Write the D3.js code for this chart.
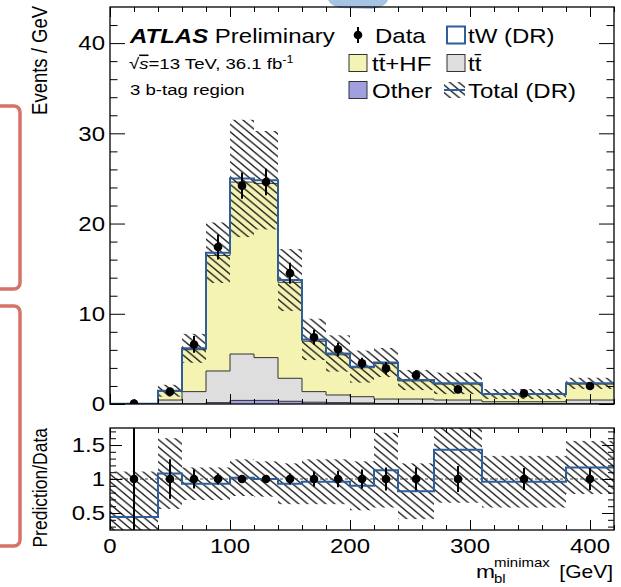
<!DOCTYPE html>
<html>
<head>
<meta charset="utf-8">
<script src="https://cdn.jsdelivr.net/npm/d3@7"></script>
<style>
body { margin: 0; background: #fff; }
svg { display: block; font-family: "Liberation Sans", Arial, Helvetica, sans-serif; }
</style>
</head>
<body>
<div id="chart"></div>
<script>
// bin edges in GeV
let edges = [0, 40, 60, 80, 100, 120, 140, 160, 180, 200, 220, 240, 270, 310, 380, 420];

// stack components, events / GeV
let other = [0, 0, 0, 0.15, 0.4, 0.4, 0.3, 0.2, 0.15, 0.12, 0.05, 0.03, 0.02, 0.02, 0.02];
let ttbar = [0, 0.44, 1.37, 3.51, 5.14, 4.74, 2.55, 1.17, 0.85, 0.69, 0.5, 0.52, 0.42, 0.23, 0.42];
let ttHF = [0.02, 0.98, 4.65, 12.81, 19.06, 19.31, 10.64, 5.59, 4.45, 3.21, 3.93, 2.01, 1.77, 0.8, 1.77];
let tW = [0, 0.05, 0.15, 0.3, 0.4, 0.35, 0.25, 0.2, 0.15, 0.12, 0.12, 0.1, 0.08, 0.05, 0.08];
let predRelErr = [1.0, 0.45, 0.26, 0.2, 0.26, 0.22, 0.25, 0.32, 0.36, 0.43, 0.35, 0.42, 0.52, 0.5, 0.27];

// data
let dataVals = [0.05, 1.37, 6.6, 17.4, 24.2, 24.6, 14.5, 7.4, 6.06, 4.5, 3.95, 3.2, 1.62, 1.18, 2.0];
let dataRelErr = [1.5, 0.29, 0.14, 0.08, 0.06, 0.06, 0.08, 0.11, 0.12, 0.14, 0.17, 0.17, 0.19, 0.16, 0.16];

// prediction / data panel
let ratioVals = [0.44, 1.08, 0.93, 0.93, 1.02, 1.0, 0.93, 0.96, 0.96, 0.9, 1.13, 0.82, 1.43, 0.96, 1.17];
let ratioBand = [0.67, 0.52, 0.24, 0.24, 0.27, 0.26, 0.3, 0.33, 0.33, 0.36, 0.55, 0.41, 0.78, 0.38, 0.39];

let xTicks = [0, 100, 200, 300, 400];
let yTicksMain = [0, 10, 20, 30, 40];
let yTicksRatio = [0.5, 1, 1.5];

var w = 621,
	h = 587,
	SX = 1.2; // the picture is stretched sideways

var left = 110,
	right = 614,
	mainTop = 7,
	mainBot = 404,
	ratTop = 428,
	ratBot = 530;

let blue = "#2f5f9a",
	yellow = "#f4f3b2",
	grey = "#dedede",
	purple = "#a09fe0";

let n = dataVals.length;
let mids = d3.range(n).map((i) => (edges[i] + edges[i + 1]) / 2);

let x = d3.scaleLinear().domain([0, 420]).range([left, right]);
let y = d3.scaleLinear().domain([0, 44]).range([mainBot, mainTop]);
let yr = d3.scaleLinear().domain([0.25, 1.75]).range([ratBot, ratTop]);

let svg = d3.select("#chart").append("svg").attr("width", w).attr("height", h);

let defs = svg.append("defs");
let pat = defs
	.append("pattern")
	.attr("id", "hatch")
	.attr("patternUnits", "userSpaceOnUse")
	.attr("width", 7.5)
	.attr("height", 7.5)
	.attr("patternTransform", "scale(1.2,1)");
pat.append("path")
	.attr("d", "M-1,-1L8.5,8.5M-1,6.5L1,8.5M6.5,-1L8.5,1")
	.attr("stroke", "#222")
	.attr("stroke-width", 1.25);

defs.append("clipPath").attr("id", "clipMain")
	.append("rect").attr("x", left).attr("y", mainTop).attr("width", right - left).attr("height", mainBot - mainTop);
defs.append("clipPath").attr("id", "clipRatio")
	.append("rect").attr("x", left).attr("y", ratTop).attr("width", right - left).attr("height", ratBot - ratTop);

// slide decorations around the figure
svg.append("rect").attr("x", -20).attr("y", 106).attr("width", 40).attr("height", 183).attr("rx", 6)
	.attr("fill", "none").attr("stroke", "#d6726a").attr("stroke-width", 3.5);
svg.append("rect").attr("x", -20).attr("y", 306).attr("width", 40).attr("height", 240).attr("rx", 6)
	.attr("fill", "none").attr("stroke", "#d6726a").attr("stroke-width", 3.5);
svg.append("path").attr("d", "M328,0L388,0Q386,7 372,9L340,8Q331,6 328,0Z").attr("fill", "#a7c3e4");

function stepPts(vals) {
	return edges.map((e, i) => [e, vals[Math.min(i, n - 1)]]);
}
let stepArea = d3.area().curve(d3.curveStepAfter).x((d) => x(d[0])).y0(y(0)).y1((d) => y(d[1]));
let stepLine = d3.line().curve(d3.curveStepAfter).x((d) => x(d[0])).y((d) => y(d[1]));
let ratioLine = d3.line().curve(d3.curveStepAfter).x((d) => x(d[0])).y((d) => yr(d[1]));

let c1 = other,
	c2 = c1.map((v, i) => v + ttbar[i]),
	c3 = c2.map((v, i) => v + ttHF[i]),
	c4 = c3.map((v, i) => v + tW[i]);

let main = svg.append("g").attr("clip-path", "url(#clipMain)");
main.append("path").attr("d", stepArea(stepPts(c4))).attr("fill", "#fff");
main.append("path").attr("d", stepArea(stepPts(c3))).attr("fill", yellow);
main.append("path").attr("d", stepArea(stepPts(c2))).attr("fill", grey);
main.append("path").attr("d", stepArea(stepPts(c1))).attr("fill", purple);
[c3, c2, c1].forEach((c) => {
	main.append("path").attr("d", stepLine(stepPts(c))).attr("fill", "none").attr("stroke", "#333").attr("stroke-width", 1);
});

// total uncertainty
main.selectAll("rect.band")
	.data(d3.range(n))
	.enter()
	.append("rect")
	.attr("class", "band")
	.attr("x", (i) => x(edges[i]))
	.attr("width", (i) => x(edges[i + 1]) - x(edges[i]))
	.attr("y", (i) => y(c4[i] * (1 + predRelErr[i])))
	.attr("height", (i) => y(c4[i] * (1 - predRelErr[i])) - y(c4[i] * (1 + predRelErr[i])))
	.attr("fill", "url(#hatch)");

main.append("path").attr("d", stepLine(stepPts(c4))).attr("fill", "none").attr("stroke", blue).attr("stroke-width", 2);

// data points
main.selectAll("line.err")
	.data(d3.range(n))
	.enter()
	.append("line")
	.attr("x1", (i) => x(mids[i]))
	.attr("x2", (i) => x(mids[i]))
	.attr("y1", (i) => y(dataVals[i] * (1 + dataRelErr[i])))
	.attr("y2", (i) => y(Math.max(0, dataVals[i] * (1 - dataRelErr[i]))))
	.attr("stroke", "#000")
	.attr("stroke-width", 2);
main.selectAll("circle")
	.data(d3.range(n))
	.enter()
	.append("circle")
	.attr("cx", (i) => x(mids[i]))
	.attr("cy", (i) => y(dataVals[i]))
	.attr("r", 4.3)
	.attr("fill", "#000");

// ratio panel
let rat = svg.append("g").attr("clip-path", "url(#clipRatio)");
rat.selectAll("rect")
	.data(d3.range(n))
	.enter()
	.append("rect")
	.attr("x", (i) => x(edges[i]))
	.attr("width", (i) => x(edges[i + 1]) - x(edges[i]))
	.attr("y", (i) => yr(ratioVals[i] + ratioBand[i]))
	.attr("height", (i) => yr(ratioVals[i] - ratioBand[i]) - yr(ratioVals[i] + ratioBand[i]))
	.attr("fill", "url(#hatch)");
rat.append("line")
	.attr("x1", left).attr("x2", right).attr("y1", yr(1)).attr("y2", yr(1))
	.attr("stroke", "#444").attr("stroke-width", 1).attr("stroke-dasharray", "3,2");
rat.append("path").attr("d", ratioLine(stepPts(ratioVals))).attr("fill", "none").attr("stroke", blue).attr("stroke-width", 2);
rat.selectAll("line.err")
	.data(d3.range(n))
	.enter()
	.append("line")
	.attr("x1", (i) => x(mids[i]))
	.attr("x2", (i) => x(mids[i]))
	.attr("y1", (i) => yr(1 + dataRelErr[i]))
	.attr("y2", (i) => yr(1 - dataRelErr[i]))
	.attr("stroke", "#000")
	.attr("stroke-width", 2);
rat.selectAll("circle")
	.data(d3.range(n))
	.enter()
	.append("circle")
	.attr("cx", (i) => x(mids[i]))
	.attr("cy", yr(1))
	.attr("r", 4.3)
	.attr("fill", "#000");

// axes, ROOT style with ticks on all four sides pointing in
let xMinor = d3.range(0, 421, 20).filter((v) => v % 100 !== 0);
let yMinorMain = d3.range(0, 44, 2).filter((v) => v % 10 !== 0);
let yMinorRatio = d3.range(3, 18).map((v) => v / 10).filter((v) => v !== 0.5 && v !== 1 && v !== 1.5);

function ticks(axis, tr, vals, size) {
	let g = svg.append("g").attr("transform", tr).call(axis.tickValues(vals).tickSize(size).tickFormat(""));
	g.select(".domain").remove();
	g.selectAll("line").attr("stroke", "#000");
	return g;
}

[[mainTop, mainBot], [ratTop, ratBot]].forEach(([t, b]) => {
	ticks(d3.axisBottom(x), `translate(0,${b})`, xTicks, -10);
	ticks(d3.axisBottom(x), `translate(0,${b})`, xMinor, -5);
	ticks(d3.axisTop(x), `translate(0,${t})`, xTicks, -10);
	ticks(d3.axisTop(x), `translate(0,${t})`, xMinor, -5);
});
ticks(d3.axisLeft(y), `translate(${left},0)`, yTicksMain, -15);
ticks(d3.axisLeft(y), `translate(${left},0)`, yMinorMain, -7.5);
ticks(d3.axisRight(y), `translate(${right},0)`, yTicksMain, -15);
ticks(d3.axisRight(y), `translate(${right},0)`, yMinorMain, -7.5);
ticks(d3.axisLeft(yr), `translate(${left},0)`, yTicksRatio, -12);
ticks(d3.axisLeft(yr), `translate(${left},0)`, yMinorRatio, -6);
ticks(d3.axisRight(yr), `translate(${right},0)`, yTicksRatio, -12);
ticks(d3.axisRight(yr), `translate(${right},0)`, yMinorRatio, -6);

// frames
svg.append("rect").attr("x", left).attr("y", mainTop).attr("width", right - left).attr("height", mainBot - mainTop)
	.attr("fill", "none").attr("stroke", "#000").attr("stroke-width", 1.3);
svg.append("rect").attr("x", left).attr("y", ratTop).attr("width", right - left).attr("height", ratBot - ratTop)
	.attr("fill", "none").attr("stroke", "#000").attr("stroke-width", 1.3);

function txt(g, px, py, size, anchor, rot) {
	return g.append("text")
		.attr("transform", `translate(${px},${py}) scale(${SX},1)` + (rot ? " rotate(-90)" : ""))
		.attr("font-size", size)
		.attr("text-anchor", anchor || "start")
		.attr("fill", "#000");
}

// tick labels
yTicksMain.forEach((v) => txt(svg, left - 5, y(v) + 7.2, 20, "end").text(v));
yTicksRatio.forEach((v) => txt(svg, left - 5, yr(v) + 7.2, 20, "end").text(v));
xTicks.forEach((v) => txt(svg, x(v), 553, 20, "middle").text(v));

// axis titles
txt(svg, 47, 6, 18.5, "end", true).text("Events / GeV");
txt(svg, 47, 428, 17.5, "end", true).text("Prediction/Data");
txt(svg, 613, 578, 17.5, "end").text("[GeV]");
txt(svg, 476, 578, 19, "start").text("m");
txt(svg, 494, 567, 12.5, "start").text("minimax");
txt(svg, 494, 583, 12.5, "start").text("bl");

// labels
let atlas = txt(svg, 130, 43, 20, "start");
atlas.append("tspan").attr("font-weight", "bold").attr("font-style", "italic").text("ATLAS");
atlas.append("tspan").text(" Preliminary");
let lumi = txt(svg, 129, 69, 15.5, "start");
lumi.append("tspan").text("\u221A");
lumi.append("tspan").attr("font-style", "italic").attr("text-decoration", "overline").text("s");
lumi.append("tspan").text("=13 TeV, 36.1 fb");
lumi.append("tspan").attr("font-size", 10.5).attr("dy", -6).text("-1");
txt(svg, 130, 95, 15.5, "start").text("3 b-tag region");

// legend
let legRows = [35, 63, 90];
let legCols = [349, 447];
let leg = svg.append("g");
leg.append("line").attr("x1", 358).attr("x2", 358).attr("y1", legRows[0] - 8).attr("y2", legRows[0] + 8)
	.attr("stroke", "#000").attr("stroke-width", 2);
leg.append("circle").attr("cx", 358).attr("cy", legRows[0]).attr("r", 4.3).attr("fill", "#000");
txt(leg, legCols[0] + 26, legRows[0] + 7.5, 20).text("Data");

function legBox(cx, cy, fill, stroke) {
	leg.append("rect").attr("x", cx).attr("y", cy - 8.5).attr("width", 18).attr("height", 17)
		.attr("fill", fill).attr("stroke", stroke).attr("stroke-width", stroke === blue ? 2 : 1);
}
legBox(legCols[1], legRows[0], "#fff", blue);
txt(leg, legCols[1] + 21, legRows[0] + 7.5, 20).text("tW (DR)");
legBox(legCols[0], legRows[1], yellow, "#333");
txt(leg, legCols[0] + 23, legRows[1] + 7.5, 20).text("tt\u0304+HF");
legBox(legCols[1], legRows[1], grey, "#333");
txt(leg, legCols[1] + 21, legRows[1] + 7.5, 20).text("tt\u0304");
legBox(legCols[0], legRows[2], purple, "#333");
txt(leg, legCols[0] + 23, legRows[2] + 7.5, 20).text("Other");
leg.append("rect").attr("x", legCols[1] - 3).attr("y", legRows[2] - 8).attr("width", 21).attr("height", 16)
	.attr("fill", "url(#hatch)");
leg.append("line").attr("x1", legCols[1] - 3).attr("x2", legCols[1] + 18).attr("y1", legRows[2]).attr("y2", legRows[2])
	.attr("stroke", blue).attr("stroke-width", 2);
txt(leg, legCols[1] + 21, legRows[2] + 7.5, 20).text("Total (DR)");
</script>
</body>
</html>
